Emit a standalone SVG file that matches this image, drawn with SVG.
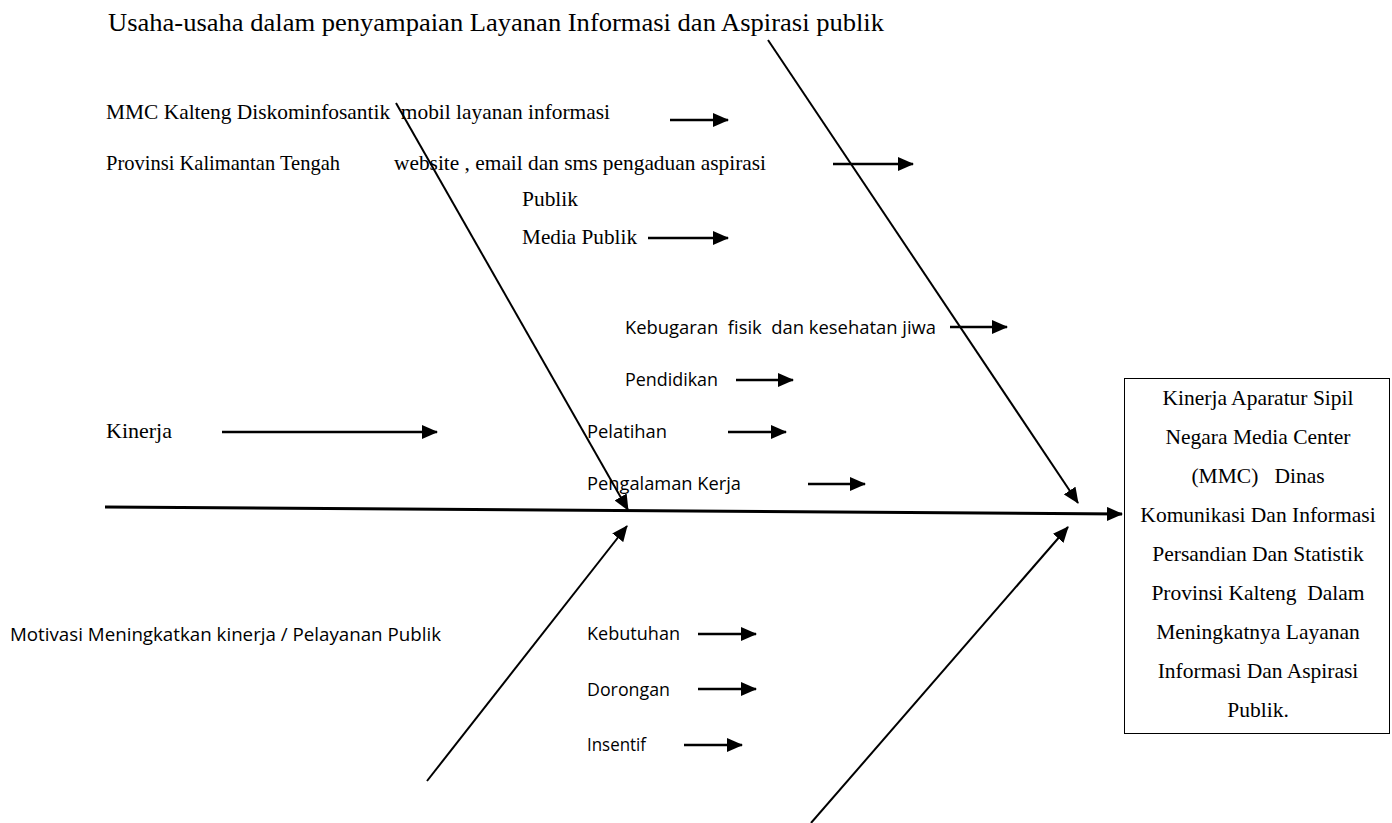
<svg xmlns="http://www.w3.org/2000/svg" width="1392" height="823" viewBox="0 0 1392 823">
<defs>
<marker id="ahs" markerWidth="16" markerHeight="14" refX="15" refY="7" orient="auto" markerUnits="userSpaceOnUse" viewBox="0 0 16 14">
<path d="M0,0 L16,7 L0,14 z" fill="#000"/>
</marker>
<style>
.serif{font-family:"Liberation Serif","Times New Roman",serif;font-size:21px;fill:#000}
.title{font-size:25px}
.box-text{font-size:21.5px}
.sans{font-family:"Open Sans","Liberation Sans",sans-serif;font-size:17.5px;fill:#000}
.arr{stroke:#000;stroke-width:2.5;fill:none;marker-end:url(#ahs)}
.bone{stroke:#000;stroke-width:2;fill:none;marker-end:url(#ahs)}
.box{fill:#fff;stroke:#000;stroke-width:1}
</style>
</defs>
<rect width="1392" height="823" fill="#fff"/>

<g id="connectors">
<line class="bone" x1="105" y1="507" x2="1122" y2="514" style="stroke-width:3"/>
<line class="bone" x1="396" y1="103" x2="628" y2="510"/>
<line class="bone" x1="768" y1="40" x2="1078" y2="503"/>
<line class="bone" x1="427" y1="781" x2="627" y2="526"/>
<line class="bone" x1="811" y1="823" x2="1068" y2="527"/>
<line class="arr" x1="670" y1="120" x2="728" y2="120"/>
<line class="arr" x1="833" y1="164" x2="913" y2="164"/>
<line class="arr" x1="648" y1="238" x2="728" y2="238"/>
<line class="arr" x1="950" y1="327" x2="1007" y2="327"/>
<line class="arr" x1="736" y1="380" x2="793" y2="380"/>
<line class="arr" x1="728" y1="432" x2="786" y2="432"/>
<line class="arr" x1="808" y1="484" x2="865" y2="484"/>
<line class="arr" x1="222" y1="432" x2="437" y2="432"/>
<line class="arr" x1="698" y1="634" x2="756" y2="634"/>
<line class="arr" x1="698" y1="689" x2="756" y2="689"/>
<line class="arr" x1="684" y1="745" x2="742" y2="745"/>
</g>

<g id="title">
<text class="serif title" x="108" y="31" textLength="776" lengthAdjust="spacingAndGlyphs">Usaha-usaha dalam penyampaian Layanan Informasi dan Aspirasi publik</text>
</g>

<g id="layanan">
<text class="serif" x="106" y="119" textLength="504" lengthAdjust="spacingAndGlyphs" xml:space="preserve">MMC Kalteng Diskominfosantik  mobil layanan informasi</text>
<text class="serif" x="106" y="170" textLength="234" lengthAdjust="spacingAndGlyphs">Provinsi Kalimantan Tengah</text>
<text class="serif" x="394" y="170" textLength="372" lengthAdjust="spacingAndGlyphs">website , email dan sms pengaduan aspirasi</text>
<text class="serif" x="522" y="206" textLength="56" lengthAdjust="spacingAndGlyphs">Publik</text>
<text class="serif" x="522" y="244" textLength="115" lengthAdjust="spacingAndGlyphs">Media Publik</text>
</g>

<g id="kinerja">
<text class="serif" x="106" y="438" textLength="66" lengthAdjust="spacingAndGlyphs">Kinerja</text>
<text class="sans" x="625" y="334" textLength="311" lengthAdjust="spacingAndGlyphs" xml:space="preserve">Kebugaran  fisik  dan kesehatan jiwa</text>
<text class="sans" x="625" y="386" textLength="93" lengthAdjust="spacingAndGlyphs">Pendidikan</text>
<text class="sans" x="587" y="438" textLength="80" lengthAdjust="spacingAndGlyphs">Pelatihan</text>
<text class="sans" x="587" y="490" textLength="154" lengthAdjust="spacingAndGlyphs">Pengalaman Kerja</text>
</g>

<g id="motivasi">
<text class="sans" x="10" y="641" textLength="431" lengthAdjust="spacingAndGlyphs">Motivasi Meningkatkan kinerja / Pelayanan Publik</text>
<text class="sans" x="587" y="640" textLength="93" lengthAdjust="spacingAndGlyphs">Kebutuhan</text>
<text class="sans" x="587" y="696" textLength="83" lengthAdjust="spacingAndGlyphs">Dorongan</text>
<text class="sans" x="587" y="751" textLength="59" lengthAdjust="spacingAndGlyphs">Insentif</text>
</g>

<g id="result">
<rect class="box" x="1124.5" y="378.5" width="265" height="355"/>
<g class="serif box-text" text-anchor="middle">
<text x="1258" y="405">Kinerja Aparatur Sipil</text>
<text x="1258" y="444">Negara Media Center</text>
<text x="1258" y="483" xml:space="preserve">(MMC)   Dinas</text>
<text x="1258" y="522">Komunikasi Dan Informasi</text>
<text x="1258" y="561">Persandian Dan Statistik</text>
<text x="1258" y="600" xml:space="preserve">Provinsi Kalteng  Dalam</text>
<text x="1258" y="639">Meningkatnya Layanan</text>
<text x="1258" y="678">Informasi Dan Aspirasi</text>
<text x="1258" y="717">Publik.</text>
</g>
</g>
</svg>
